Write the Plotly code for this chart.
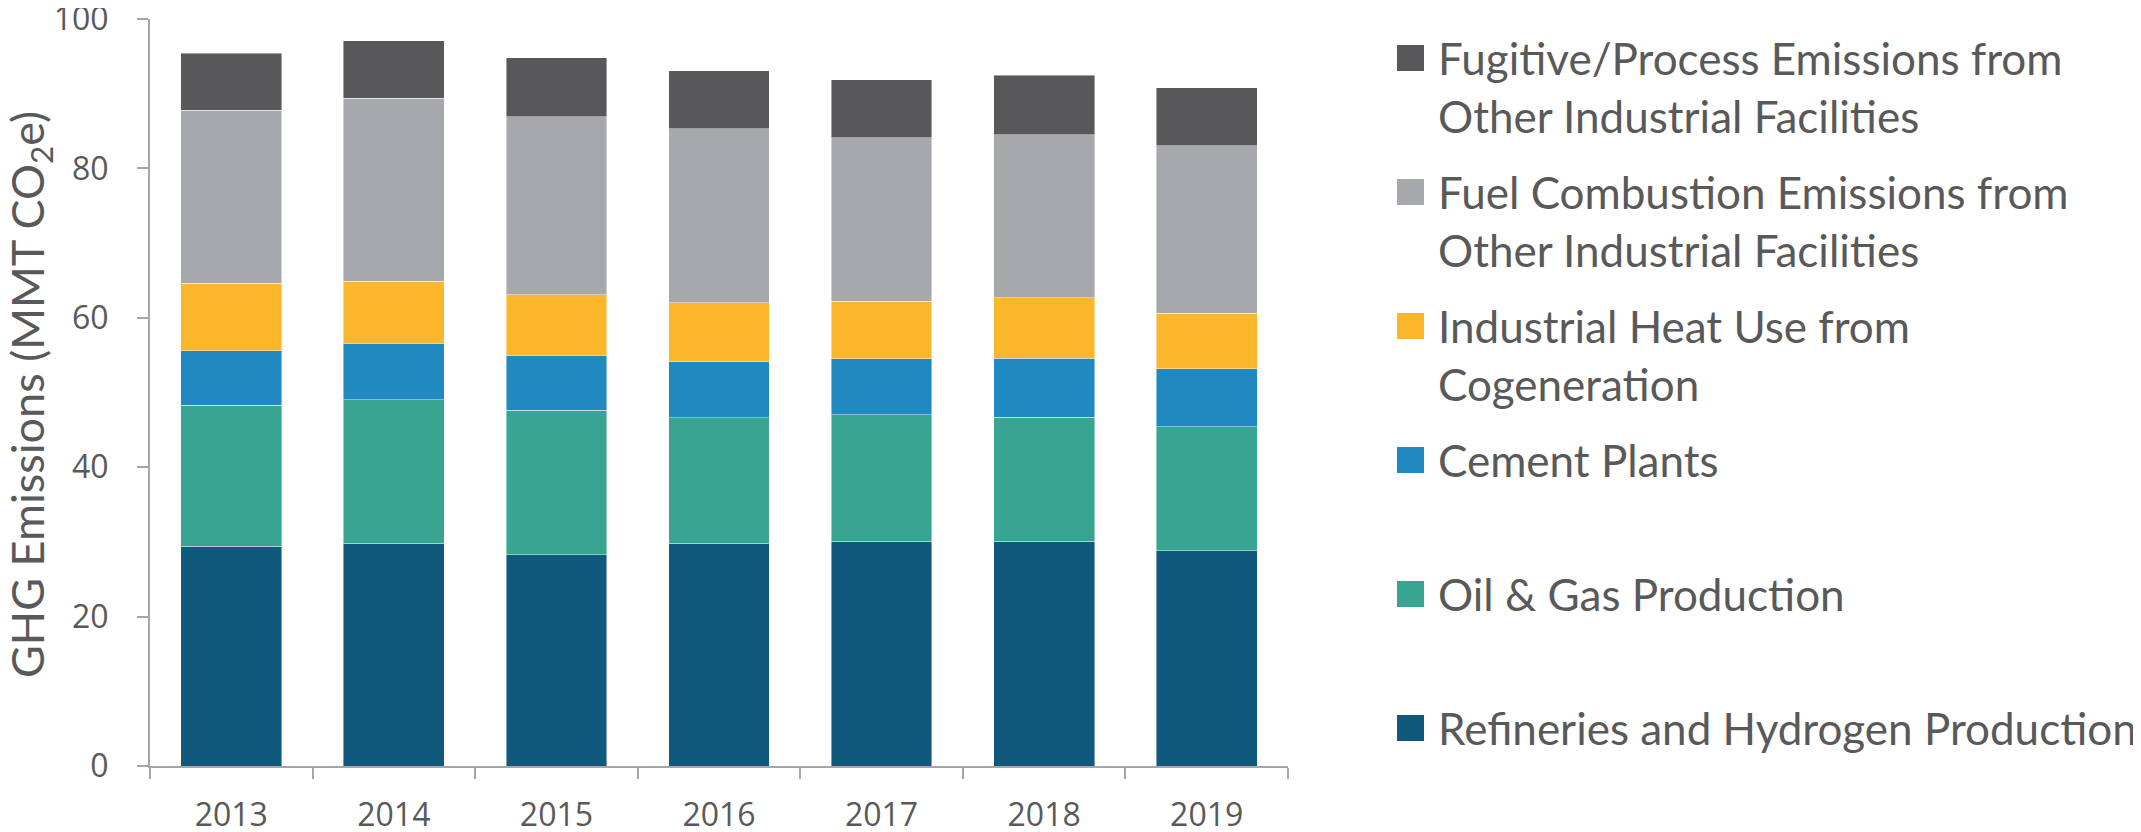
import plotly.graph_objects as go

# ---- data ----
years = ["2013", "2014", "2015", "2016", "2017", "2018", "2019"]

series_names = [
    "Refineries and Hydrogen Production",
    "Oil & Gas Production",
    "Cement Plants",
    "Industrial Heat Use from<br>Cogeneration",
    "Fuel Combustion Emissions from<br>Other Industrial Facilities",
    "Fugitive/Process Emissions from<br>Other Industrial Facilities",
]
refineries = [29.4, 29.8, 28.3, 29.8, 30.1, 30.1, 28.8]
oil_gas = [18.9, 19.2, 19.3, 16.8, 16.9, 16.6, 16.6]
cement = [7.3, 7.6, 7.4, 7.5, 7.5, 7.9, 7.8]
cogeneration = [9.0, 8.3, 8.1, 7.9, 7.7, 8.1, 7.4]
fuel_combustion = [23.2, 24.5, 23.8, 23.3, 21.9, 21.8, 22.4]
fugitive = [7.6, 7.7, 7.9, 7.8, 7.8, 8.0, 7.8]
series_values = [refineries, oil_gas, cement, cogeneration, fuel_combustion, fugitive]

y_ticks = [0, 20, 40, 60, 80, 100]
y_title = "GHG Emissions (MMT CO<sub>2</sub>e)"

# ---- styles ----
colors = ["#10597c", "#37a591", "#2089bf", "#fbb62b", "#a7a8ac", "#58585a"]
text_color = "#595959"
axis_color = "#a6a6a6"
OFF = 8                      # page body margin offset
W, H = 2141 - OFF, 832 - OFF
L, T = 150 - OFF, 19 - OFF   # plot area left/top (screen 150, 19)
R = W - (1288 - OFF)         # plot right edge at screen 1288
B = H - (766 - OFF)          # plot bottom at screen 766
plot_w = W - L - R
plot_h = H - T - B

fig = go.Figure()
for name, vals, col in zip(series_names, series_values, colors):
    fig.add_trace(go.Bar(
        x=years, y=vals, name=name.replace("<br>", " "),
        marker=dict(color=col, line=dict(color="rgba(255,255,255,0.55)", width=0.8)),
        showlegend=False,
    ))

# ---- helpers: screen px -> paper coords ----
def px_to_paper_x(px):
    return (px - OFF - L) / plot_w

def px_to_paper_y(py):
    return (H - B - (py - OFF)) / plot_h

# ---- manual legend (top entry = last series) ----
legend_first_y = 58
legend_step = 134
line_step = 58
square_cx = 1410.5
text_x = 1436
annotations = []
shapes = []
for i, (name, col) in enumerate(zip(reversed(series_names), reversed(colors))):
    cy = legend_first_y + i * legend_step
    shapes.append(dict(
        type="rect", xref="paper", yref="paper",
        xsizemode="pixel", ysizemode="pixel",
        xanchor=px_to_paper_x(square_cx), yanchor=px_to_paper_y(cy),
        x0=-13.5, x1=13.5, y0=-13, y1=13,
        fillcolor=col, line=dict(width=0),
    ))
    for j, line in enumerate(name.split("<br>")):
        annotations.append(dict(
            text=line, xref="paper", yref="paper",
            x=px_to_paper_x(text_x), y=px_to_paper_y(cy + j * line_step),
            xanchor="left", yanchor="middle", showarrow=False,
            font=dict(family="Lato", size=44, color=text_color),
        ))

# ---- y-axis title (rotated) ----
annotations.append(dict(
    text=y_title, xref="paper", yref="paper",
    x=px_to_paper_x(30), y=px_to_paper_y(395),
    xanchor="center", yanchor="middle", textangle=-90, showarrow=False,
    font=dict(family="Lato", size=45, color=text_color),
))

fig.update_layout(
    width=W, height=H,
    margin=dict(l=L, r=R, t=T, b=B, autoexpand=False),
    barmode="stack", bargap=0.38,
    plot_bgcolor="white", paper_bgcolor="white",
    showlegend=False,
    annotations=annotations, shapes=shapes,
    xaxis=dict(
        type="category", showline=True, linecolor=axis_color, linewidth=2,
        ticks="outside", tickson="boundaries", ticklen=11, tickwidth=2, tickcolor=axis_color,
        tickfont=dict(family="Open Sans", size=32, color=text_color),
        showgrid=False, ticklabelstandoff=20, automargin=False,
        ticklabeloverflow="allow",
    ),
    yaxis=dict(
        range=[0, 100], tickvals=y_ticks, ticktext=[str(v) for v in y_ticks],
        showline=True, linecolor=axis_color, linewidth=2,
        ticks="outside", ticklen=11, tickwidth=2, tickcolor=axis_color,
        tickfont=dict(family="Open Sans", size=32, color=text_color),
        showgrid=False, zeroline=False, ticklabelstandoff=22, automargin=False,
        ticklabeloverflow="allow",
    ),
)

fig.write_html("out.html")
